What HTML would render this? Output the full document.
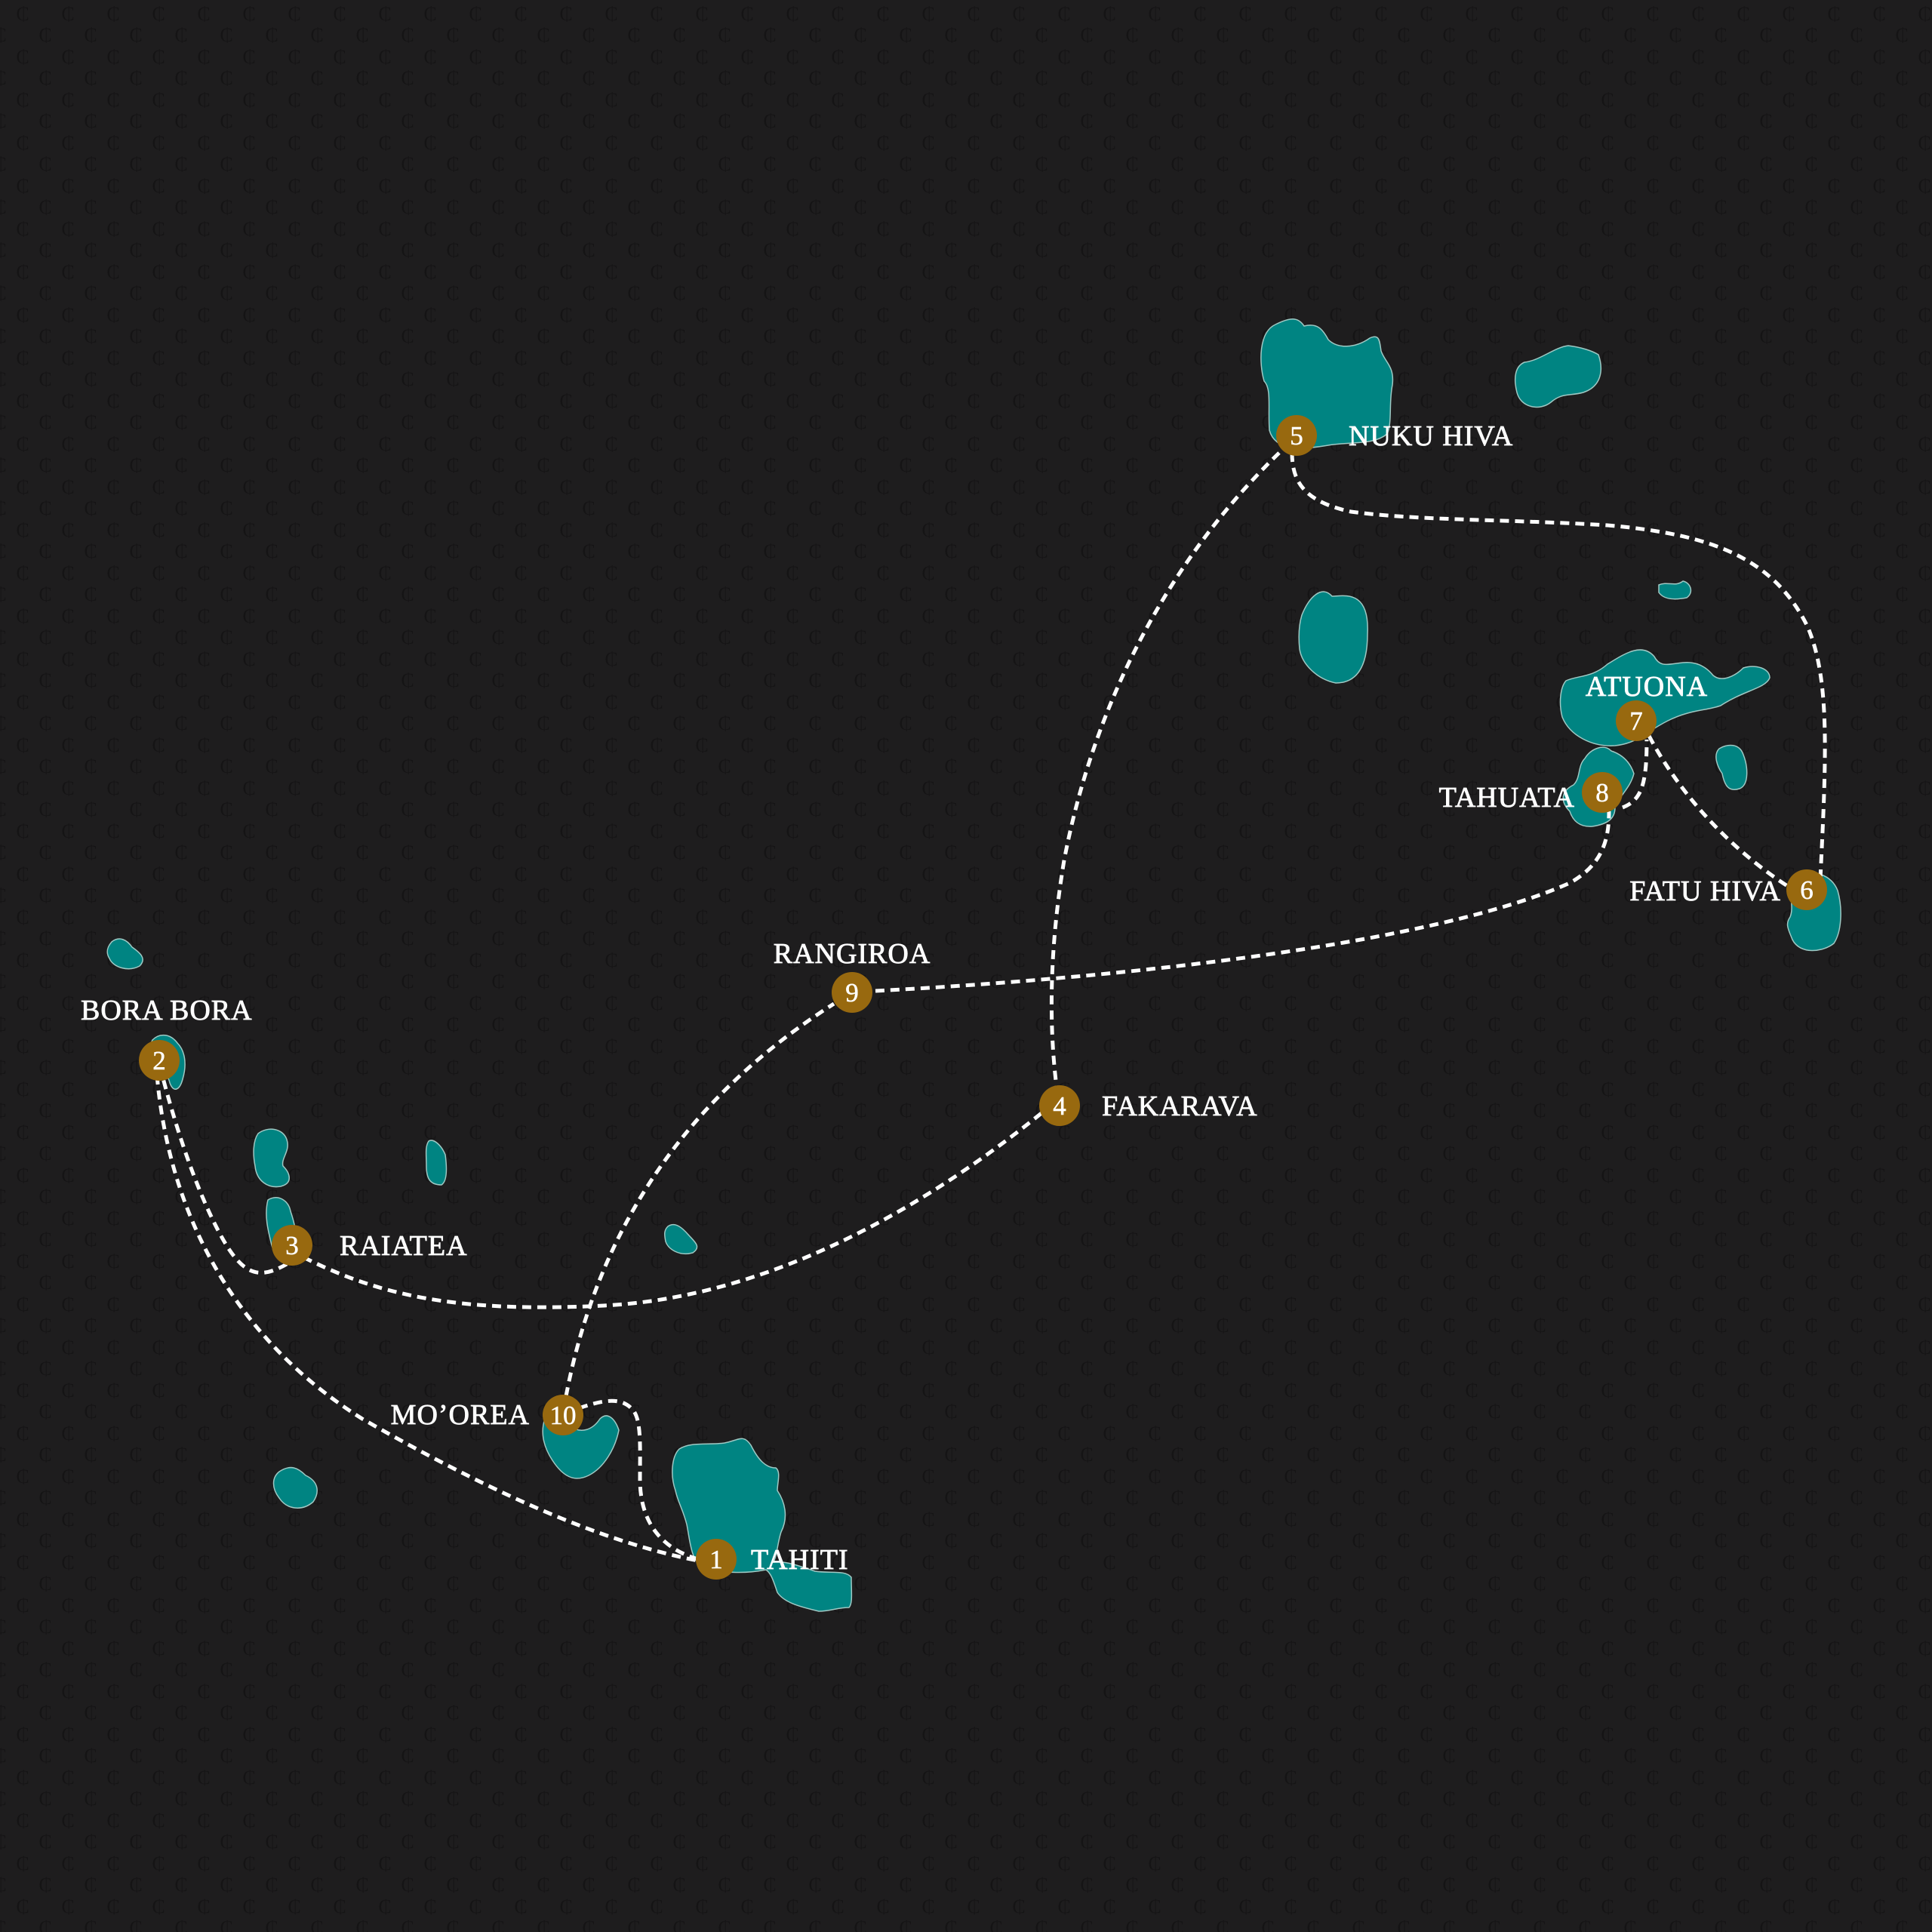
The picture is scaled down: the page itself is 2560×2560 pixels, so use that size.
<!DOCTYPE html>
<html><head><meta charset="utf-8"><style>
html,body{margin:0;padding:0;background:#1e1d1e}
svg{display:block}
.l{font-family:"Liberation Serif",serif;font-size:38px;fill:#fff;stroke:#fff;stroke-width:0.8;letter-spacing:1px}
.n{font-family:"Liberation Serif",serif;font-size:35px;fill:#fff;stroke:#fff;stroke-width:0.5;text-anchor:middle}
.i{fill:#008482;stroke:#9fc9c4;stroke-width:1.5}
.r{fill:none;stroke:#fff;stroke-width:5;stroke-dasharray:12 8}
</style></head><body>
<svg width="2560" height="2560" viewBox="0 0 2560 2560" xmlns="http://www.w3.org/2000/svg">
<defs>
<pattern id="p" width="60" height="57" patternUnits="userSpaceOnUse">
<text x="30" y="27" font-family="Liberation Serif,serif" font-size="26" fill="#151415" text-anchor="middle">₵</text>
<text x="0" y="55" font-family="Liberation Serif,serif" font-size="26" fill="#151415" text-anchor="middle">₵</text>
<text x="60" y="55" font-family="Liberation Serif,serif" font-size="26" fill="#151415" text-anchor="middle">₵</text>
</pattern>
</defs>
<rect width="2560" height="2560" fill="#1e1d1e"/>
<rect width="2560" height="2560" fill="url(#p)"/>

<path class="i" d="M1690 430 C1710 420 1720 420 1728 432 C1745 428 1752 435 1760 450 C1772 462 1795 462 1815 448 C1828 442 1828 452 1830 465 C1835 480 1848 485 1845 510 C1840 535 1845 560 1838 575 C1820 590 1790 585 1760 590 C1730 595 1690 600 1682 570 C1680 540 1685 515 1675 505 C1668 480 1668 440 1690 430Z"/>
<path class="i" d="M2020 480 C2040 478 2060 460 2078 458 C2095 460 2110 465 2118 470 C2125 490 2122 512 2098 520 C2080 525 2070 520 2055 533 C2040 545 2015 540 2010 520 C2005 500 2008 485 2020 480Z"/>
<path class="i" d="M1725 815 C1735 790 1752 775 1765 790 C1780 790 1815 780 1812 840 C1812 880 1800 905 1770 905 C1745 900 1725 880 1722 860 C1720 840 1722 825 1725 815Z"/>
<path class="i" d="M2198 775 C2210 770 2220 778 2230 770 C2240 772 2245 785 2235 792 C2220 795 2205 795 2198 785Z"/>
<path class="i" d="M2075 902 C2090 895 2110 898 2130 880 C2150 868 2175 850 2192 870 C2200 885 2210 880 2230 878 C2250 876 2262 885 2270 895 C2282 905 2300 895 2310 885 C2325 880 2345 885 2345 898 C2340 912 2310 915 2280 935 C2260 942 2240 940 2210 955 C2180 970 2170 985 2140 988 C2110 990 2080 975 2070 950 C2065 930 2068 910 2075 902Z"/>
<path class="i" d="M2278 992 C2290 985 2305 985 2310 1000 C2316 1015 2318 1040 2305 1045 C2290 1050 2285 1040 2282 1025 C2275 1015 2270 1000 2278 992Z"/>
<path class="i" d="M2100 1005 C2108 992 2125 985 2135 995 C2150 1000 2160 1010 2165 1025 C2160 1045 2145 1055 2140 1070 C2140 1085 2130 1092 2110 1095 C2095 1096 2085 1090 2080 1075 C2070 1065 2065 1050 2085 1040 C2095 1030 2090 1015 2100 1005Z"/>
<path class="i" d="M2378 1160 C2395 1152 2425 1155 2435 1180 C2442 1205 2440 1235 2430 1250 C2415 1262 2385 1265 2375 1245 C2370 1232 2365 1225 2372 1215 C2378 1200 2368 1185 2378 1160Z"/>
<path class="i" d="M148 1248 C158 1240 168 1245 175 1255 C185 1262 195 1270 185 1280 C170 1288 150 1282 145 1270 C140 1262 142 1255 148 1248Z"/>
<path class="i" d="M202 1378 C212 1368 226 1370 235 1382 C245 1392 248 1410 242 1430 C238 1445 230 1448 225 1435 C222 1420 212 1425 205 1410 C198 1398 198 1386 202 1378Z"/>
<path class="i" d="M342 1502 C355 1492 375 1495 380 1510 C385 1525 372 1535 375 1545 C385 1555 388 1568 372 1572 C355 1575 340 1565 338 1545 C335 1530 335 1512 342 1502Z"/>
<path class="i" d="M355 1590 C368 1582 382 1590 385 1605 C390 1620 395 1640 392 1655 C385 1670 365 1668 360 1650 C355 1630 350 1610 355 1590Z"/>
<path class="i" d="M568 1512 C575 1508 585 1518 590 1530 C592 1545 593 1565 585 1570 C570 1570 565 1562 565 1545 C565 1530 563 1520 568 1512Z"/>
<path class="i" d="M885 1625 C895 1618 905 1628 912 1636 C920 1645 930 1652 918 1660 C900 1665 885 1655 882 1645 C880 1635 880 1630 885 1625Z"/>
<path class="i" d="M722 1880 C735 1870 745 1875 755 1890 C770 1900 785 1895 795 1880 C805 1870 815 1880 820 1895 C815 1920 800 1945 780 1955 C760 1965 745 1955 732 1935 C722 1920 715 1900 722 1880Z"/>
<path class="i" d="M900 1920 C915 1910 940 1915 960 1912 C980 1908 985 1900 995 1915 C1005 1935 1015 1945 1028 1945 C1035 1950 1030 1965 1030 1975 C1040 1990 1045 2010 1035 2030 C1030 2045 1030 2060 1025 2070 C1040 2068 1060 2075 1080 2082 C1100 2085 1120 2080 1128 2090 C1128 2110 1130 2125 1125 2130 C1110 2130 1100 2135 1085 2135 C1065 2130 1040 2125 1030 2110 C1025 2095 1022 2085 1015 2080 C990 2085 960 2085 935 2078 C915 2070 915 2045 910 2020 C905 2000 898 1990 895 1975 C888 1955 890 1930 900 1920Z"/>
<path class="i" d="M370 1950 C385 1940 395 1945 405 1955 C420 1962 425 1975 415 1990 C400 2003 380 2000 370 1985 C360 1972 360 1958 370 1950Z"/>

<path class="r" d="M1712 600 C1712 640 1730 665 1790 678 C1880 690 2000 688 2130 696 C2270 708 2350 740 2395 830 C2425 900 2420 1000 2412 1165"/>
<path class="r" d="M1695 600 C1550 740 1450 930 1410 1140 C1390 1260 1390 1360 1400 1440"/>
<path class="r" d="M1380 1475 C1200 1620 1000 1720 800 1730 C600 1740 500 1715 400 1665"/>
<path class="r" d="M380 1675 C345 1695 325 1690 300 1650 C270 1600 240 1520 215 1425"/>
<path class="r" d="M208 1425 C225 1620 320 1780 480 1880 C620 1960 780 2040 925 2068"/>
<path class="r" d="M925 2066 C870 2050 848 2010 848 1960 C848 1920 850 1885 840 1870 C825 1850 800 1855 770 1865"/>
<path class="r" d="M750 1850 C790 1640 900 1460 1105 1330"/>
<path class="r" d="M1160 1313 C1500 1295 1900 1250 2080 1170 C2125 1145 2132 1110 2132 1075"/>
<path class="r" d="M2150 1070 C2175 1060 2182 1040 2182 980"/>
<path class="r" d="M2185 975 C2230 1060 2300 1130 2370 1175"/>

<g fill="#98690f">
<circle cx="949" cy="2066" r="27"/><circle cx="211" cy="1405" r="27"/><circle cx="387" cy="1650" r="27"/>
<circle cx="1404" cy="1465" r="27"/><circle cx="1718" cy="577" r="27"/><circle cx="2394" cy="1179" r="27"/>
<circle cx="2168" cy="955" r="27"/><circle cx="2123" cy="1050" r="27"/><circle cx="1129" cy="1315" r="27"/>
<circle cx="746" cy="1875" r="27"/>
</g>
<g class="n">
<text x="949" y="2078">1</text><text x="211" y="1417">2</text><text x="387" y="1662">3</text>
<text x="1404" y="1477">4</text><text x="1718" y="589">5</text><text x="2394" y="1191">6</text>
<text x="2168" y="967">7</text><text x="2123" y="1062">8</text><text x="1129" y="1327">9</text>
<text x="746" y="1887">10</text>
</g>
<g class="l">
<text x="995" y="2079">TAHITI</text>
<text x="107" y="1351">BORA BORA</text>
<text x="450" y="1663">RAIATEA</text>
<text x="1460" y="1478">FAKARAVA</text>
<text x="1787" y="590">NUKU HIVA</text>
<text x="2360" y="1193" text-anchor="end">FATU HIVA</text>
<text x="2182" y="922" text-anchor="middle">ATUONA</text>
<text x="2087" y="1069" text-anchor="end">TAHUATA</text>
<text x="1129" y="1276" text-anchor="middle">RANGIROA</text>
<text x="702" y="1887" text-anchor="end">MO’OREA</text>
</g>
</svg>
</body></html>
